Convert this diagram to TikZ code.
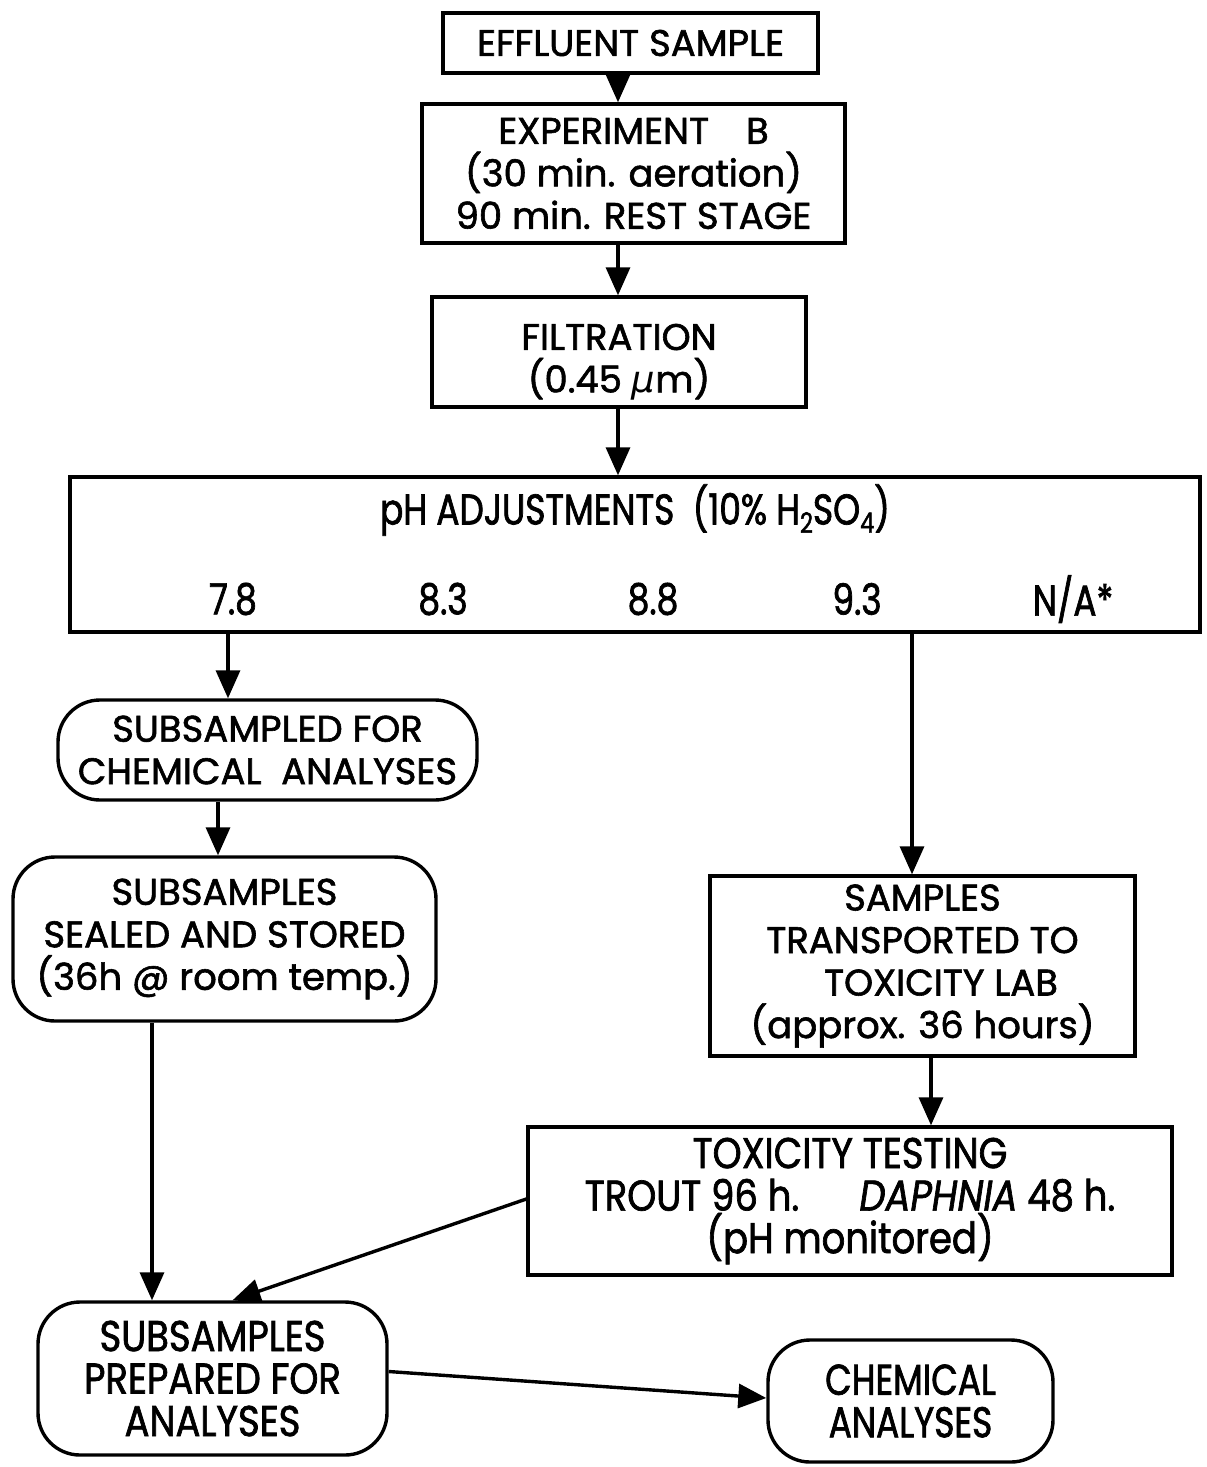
\documentclass[tikz,border=0pt]{standalone}
\usepackage{fontspec}
\setmainfont{Poppins}[FakeBold=1.6]
\newfontfamily\narrowfont{Poppins}[FakeStretch=0.8, FakeBold=1.6]
\newfontfamily\semifont{Poppins}[FakeStretch=0.86, FakeBold=1.6]
\newfontfamily\greekfont{DejaVu Sans}
\usetikzlibrary{arrows.meta}
\newcommand\lowsub[1]{\raisebox{-0.35ex}{\fontsize{28}{28}\selectfont #1}}
\begin{document}
\begin{tikzpicture}[x=1pt,y=-1pt,
  every node/.style={font=\fontsize{37}{42.5}\selectfont, align=center, inner sep=0pt},
  narrowtext/.style={font=\narrowfont\fontsize{43}{42.5}\selectfont},
  semitext/.style={font=\semifont\fontsize{43}{42.5}\selectfont},
  box/.style={draw, line width=3.4pt},
  roundbox/.style={draw, line width=3.4pt, rounded corners=42pt},
  arr/.style={line width=3.4pt, -{Triangle[length=28pt,width=24pt]}}]
\useasboundingbox (0,0) rectangle (1207,1467);

% column positions of the vertical connectors
\coordinate (c618) at (618,0);
\coordinate (c228) at (228,0);
\coordinate (c218) at (218,0);
\coordinate (c912) at (912,0);
\coordinate (c931) at (931,0);
\coordinate (c152) at (152,0);

% process boxes
\node[box, minimum width=375pt, minimum height=60pt] (eff) at (630.5,43) {EFFLUENT SAMPLE};
\node[box, minimum width=423pt, minimum height=139pt] (exp) at (633.5,173.5)
  {EXPERIMENT\quad B\\(30 min. aeration)\\90 min. REST STAGE};
\node[box, minimum width=374pt, minimum height=110pt] (filt) at (619,352) {};
\node (filttext) at (619,362) {FILTRATION\\(0.45 {\greekfont\itshape μ}m)};

\node[box, minimum width=1130pt, minimum height=155pt] (ph) at (635,554.5) {};
\node[narrowtext] (phtitle) at (635,510)
  {pH ADJUSTMENTS\ \ (10\% H\lowsub{2}SO\lowsub{4})};
\node[narrowtext] (v1) at (233,599) {7.8};
\node[narrowtext] (v2) at (443,599) {8.3};
\node[narrowtext] (v3) at (653,599) {8.8};
\node[narrowtext] (v4) at (857,599) {9.3};
\node[narrowtext] (v5) at (1073,599) {N/A*};

\node[roundbox, minimum width=419pt, minimum height=100pt] (sub) at (267.5,750)
  {SUBSAMPLED FOR\\CHEMICAL\ \ ANALYSES};
\node[roundbox, minimum width=423pt, minimum height=164pt] (seal) at (224.5,939)
  {SUBSAMPLES\\SEALED AND STORED\\(36h @ room temp.)};
\node[box, minimum width=425pt, minimum height=180pt] (trans) at (922.5,966)
  {SAMPLES\\TRANSPORTED TO\\\hspace*{1em}TOXICITY LAB\\(approx. 36 hours)};
\node[box, minimum width=644pt, minimum height=148pt, semitext] (tox) at (850,1201)
  {TOXICITY TESTING\\TROUT 96 h.\hspace{1.4em}\textit{DAPHNIA} 48 h.\\(pH monitored)};
\node[roundbox, minimum width=349pt, minimum height=153pt, semitext] (prep) at (212.5,1378.5)
  {SUBSAMPLES\\PREPARED FOR\\ANALYSES};
\node[roundbox, minimum width=285pt, minimum height=122pt, narrowtext] (chem) at (910.5,1401)
  {CHEMICAL\\ANALYSES};

% connectors
\draw[arr] (c618 |- eff.south) -- (c618 |- exp.north);
\draw[arr] (c618 |- exp.south) -- (c618 |- filt.north);
\draw[arr] (c618 |- filt.south) -- (c618 |- ph.north);
\draw[arr] (c228 |- ph.south) -- (c228 |- sub.north);
\draw[arr] (c218 |- sub.south) -- (c218 |- seal.north);
\draw[arr] (c912 |- ph.south) -- (c912 |- trans.north);
\draw[arr] (c931 |- trans.south) -- (c931 |- tox.north);
\draw[arr] (c152 |- seal.south) -- (c152 |- prep.north);
\draw[arr] ([yshift=2pt]tox.west) -- ([xshift=20pt]prep.north);
\draw[arr] ([yshift=7pt]prep.east) -- ([yshift=3pt]chem.west);
\end{tikzpicture}
\end{document}
